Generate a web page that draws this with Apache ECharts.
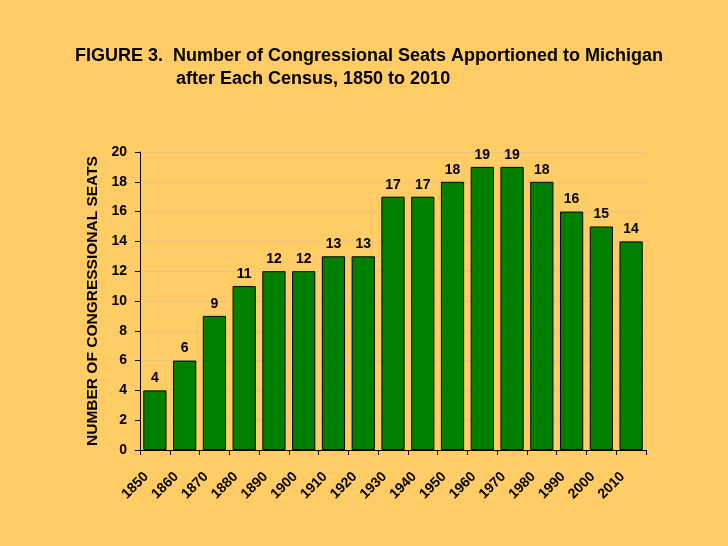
<!DOCTYPE html>
<html>
<head>
<meta charset="utf-8">
<script src="https://cdn.jsdelivr.net/npm/echarts@6/dist/echarts.min.js"></script>
<style>
  html, body { margin: 0; padding: 0; background: #FFCC66; }
  #main { width: 728px; height: 546px; }
</style>
</head>
<body>
<div id="main"></div>
<script>
var years = ['1850', '1860', '1870', '1880', '1890', '1900', '1910', '1920', '1930',
  '1940', '1950', '1960', '1970', '1980', '1990', '2000', '2010'];
var seats = [4, 6, 9, 11, 12, 12, 13, 13, 17, 17, 18, 19, 19, 18, 16, 15, 14];
var yTicks = [0, 2, 4, 6, 8, 10, 12, 14, 16, 18, 20];

var font = 'Liberation Sans';
var myChart = echarts.init(document.getElementById('main'));
myChart.setOption({
  backgroundColor: '#FFCC66',
  animation: false,
  title: [{
    text: 'FIGURE 3.  Number of Congressional Seats Apportioned to Michigan',
    left: 70, top: 42,
    textStyle: { fontFamily: font, fontSize: 18, fontWeight: 'bold', color: '#000' }
  }, {
    text: 'after Each Census, 1850 to 2010',
    left: 171, top: 65,
    textStyle: { fontFamily: font, fontSize: 18, fontWeight: 'bold', color: '#000' }
  }],
  grid: { left: 140, right: 82, top: 152, bottom: 96, containLabel: false },
  xAxis: {
    type: 'category',
    data: years,
    axisLine: { lineStyle: { color: '#000', width: 1 } },
    axisTick: { show: true, length: 5, lineStyle: { color: '#000' } },
    axisLabel: {
      rotate: 45, margin: 16, padding: [0, 12, 0, 0], color: '#000',
      fontFamily: font, fontSize: 14, fontWeight: 'bold'
    }
  },
  yAxis: {
    type: 'value',
    min: 0, max: 20, interval: 2,
    name: 'NUMBER OF CONGRESSIONAL SEATS',
    nameLocation: 'middle',
    nameGap: 39,
    nameTextStyle: { fontFamily: font, fontSize: 15.5, fontWeight: 'bold', color: '#000' },
    axisLine: { show: true, lineStyle: { color: '#000', width: 1 } },
    axisTick: { show: true, length: 5, lineStyle: { color: '#000' } },
    axisLabel: {
      margin: 13, color: '#000',
      fontFamily: font, fontSize: 14, fontWeight: 'bold',
      formatter: function (v) { return yTicks.indexOf(v) >= 0 ? String(v) : ''; }
    },
    splitLine: { show: true, lineStyle: { color: '#DDBE88', type: 'dotted', width: 1 } }
  },
  series: [{
    type: 'bar',
    data: seats,
    barCategoryGap: '22%',
    itemStyle: { color: '#008000', borderColor: '#000', borderWidth: 1 },
    label: {
      show: true, position: 'top', distance: 5, color: '#000',
      fontFamily: font, fontSize: 14, fontWeight: 'bold'
    }
  }]
});
</script>
</body>
</html>
